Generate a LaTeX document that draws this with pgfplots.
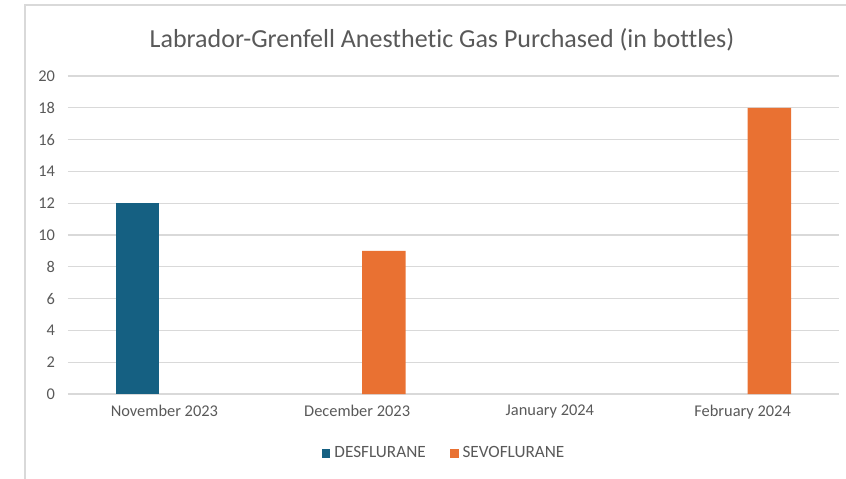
\documentclass[border=0pt]{standalone}
\usepackage{pgfplots}
\pgfplotsset{compat=1.18}
\usepackage{fontspec}
\setmainfont{Carlito}[Ligatures=NoCommon]
\definecolor{desf}{RGB}{21,96,130}
\definecolor{sevo}{RGB}{233,113,50}
\definecolor{gridc}{RGB}{217,217,217}
\definecolor{txt}{RGB}{89,89,89}
\begin{document}
\begin{tikzpicture}[x=0.5pt,y=0.5pt]
\useasboundingbox (0,0) rectangle (846,-478);
\draw[gridc,line width=0.6pt] (25,-520) -- (25,-5) -- (900,-5);
\node[txt,font=\fontsize{13}{15}\selectfont] at (442,-40) {Labrador-Grenfell Anesthetic Gas Purchased (in bottles)};
\begin{axis}[
    at={(34pt,-197pt)}, anchor=south west,
    scale only axis,
    width=385.5pt, height=159pt,
    xmin=-0.5, xmax=3.5,
    ymin=0, ymax=20,
    ytick={0,2,...,20},
    xtick={0,1,2,3},
    xticklabels={November 2023, December 2023, January 2024, February 2024},
    axis line style={draw=none},
    major tick style={draw=none},
    ymajorgrids=true,
    grid style={gridc, line width=0.6pt},
    tick label style={txt, font=\fontsize{8.2}{9}\selectfont},
    xticklabel style={yshift=-2pt},
    yticklabel style={xshift=-3pt},
    /pgf/number format/assume math mode=true,
    bar width=21.75pt,
    unbounded coords=discard,
    y filter/.expression={y==0 ? nan : y},
    legend style={at={(0.489,-0.186)}, anchor=center, draw=none, legend columns=2,
        font=\fontsize{8.6}{10}\selectfont, text=txt,
        /tikz/every even column/.append style={column sep=10pt}},
    legend image code/.code={\fill[#1] (0pt,-2.2pt) rectangle (4.4pt,2.2pt);},
]
\addplot[ybar, fill=desf, draw=none, bar shift=-13.4pt] coordinates {(0,12) (1,0) (2,0) (3,0)};
\addplot[ybar, fill=sevo, draw=none, bar shift=13.4pt] coordinates {(0,0) (1,9) (2,0) (3,18)};
\legend{DESFLURANE, SEVOFLURANE}
\end{axis}
\end{tikzpicture}
\end{document}
